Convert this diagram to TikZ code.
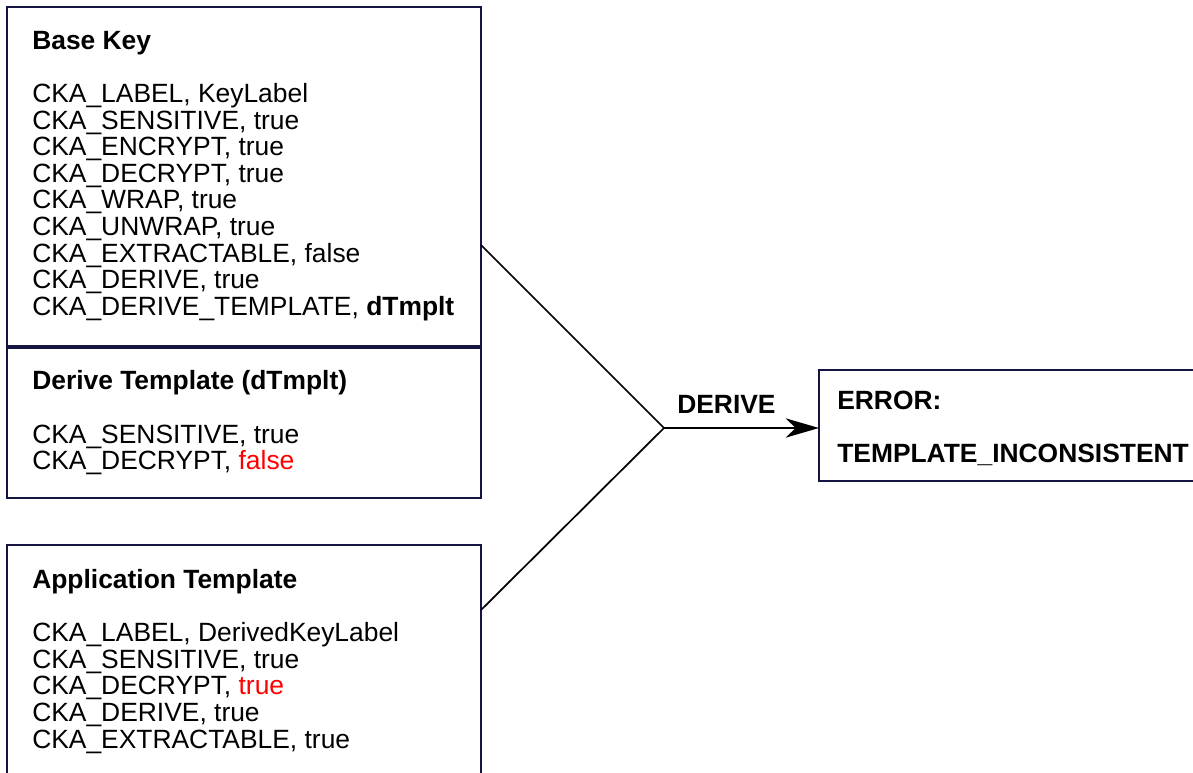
\documentclass[tikz,border=0pt]{standalone}
\usepackage{fontspec}
\setmainfont{Liberation Sans}
\usetikzlibrary{arrows.meta, positioning, calc}
\definecolor{boxedge}{RGB}{20,20,66}
\definecolor{valred}{RGB}{255,0,0}
\newcommand{\attrfont}{\fontsize{19.8pt}{19.95pt}\selectfont}
\tikzset{
	attrbox/.style = {draw=boxedge, line width=1.5pt, anchor=north west,
		inner sep=0pt, outer sep=0pt, minimum width=355.5pt},
	attrtext/.style = {anchor=base west, inner sep=0pt, font=\attrfont},
	link/.style = {line width=1.3pt, color=black}
}

\begin{document}
\begin{tikzpicture}[x=0.75pt, y=-0.75pt]
	\useasboundingbox (0,0) rectangle (1193,773);
	\clip (0,0) rectangle (1193,773);
	
	% boxes
	\node [attrbox, minimum height=254.25pt] (basekey) at (7,7) {};
	\node [attrbox, minimum height=112.5pt] (dtmplt) at (7,348) {};
	\node [attrbox, minimum height=195pt] (apptmplt) at (7,545) {};
	\node [attrbox, minimum width=300.75pt, minimum height=83.25pt] (error) at (819,370) {};
	
	% box contents
	\node [attrtext] (basekeytext) at (32,49.3) {\parbox[t]{340pt}{%
			\textbf{Base Key}\\[\baselineskip]
			CKA\_LABEL, KeyLabel\\
			CKA\_SENSITIVE, true\\
			CKA\_ENCRYPT, true\\
			CKA\_DECRYPT, true\\
			CKA\_WRAP, true\\
			CKA\_UNWRAP, true\\
			CKA\_EXTRACTABLE, false\\
			CKA\_DERIVE, true\\
			CKA\_DERIVE\_TEMPLATE, \textbf{dTmplt}}};
	\node [attrtext] (dtmplttext) at (32,390) {\parbox[t]{340pt}{%
			\textbf{Derive Template (dTmplt)}\\[\baselineskip]
			CKA\_SENSITIVE, true\\
			CKA\_DECRYPT, \textcolor{valred}{false}}};
	\node [attrtext] (apptmplttext) at (32,588.5) {\parbox[t]{340pt}{%
			\textbf{Application Template}\\[\baselineskip]
			CKA\_LABEL, DerivedKeyLabel\\
			CKA\_SENSITIVE, true\\
			CKA\_DECRYPT, \textcolor{valred}{true}\\
			CKA\_DERIVE, true\\
			CKA\_EXTRACTABLE, true}};
	\node [attrtext] (errortext) at (837,409.5) {\parbox[t]{340pt}{\bfseries
			ERROR:\\[\baselineskip]
			TEMPLATE\_INCONSISTENT}};
	
	% derive
	\coordinate (join) at (664,428);
	\draw [link] ($(basekey.north east)+(0,238)$) -- (join);
	\draw [link] ($(apptmplt.north east)+(0,65)$) -- (join);
	\draw [link, -{Stealth[length=25pt, width=14.5pt, inset=7.5pt]}] (join) -- (join -| error.west);
	\node [attrtext, font=\attrfont\bfseries] (derive) at (677,414) {DERIVE};
\end{tikzpicture}
\end{document}
